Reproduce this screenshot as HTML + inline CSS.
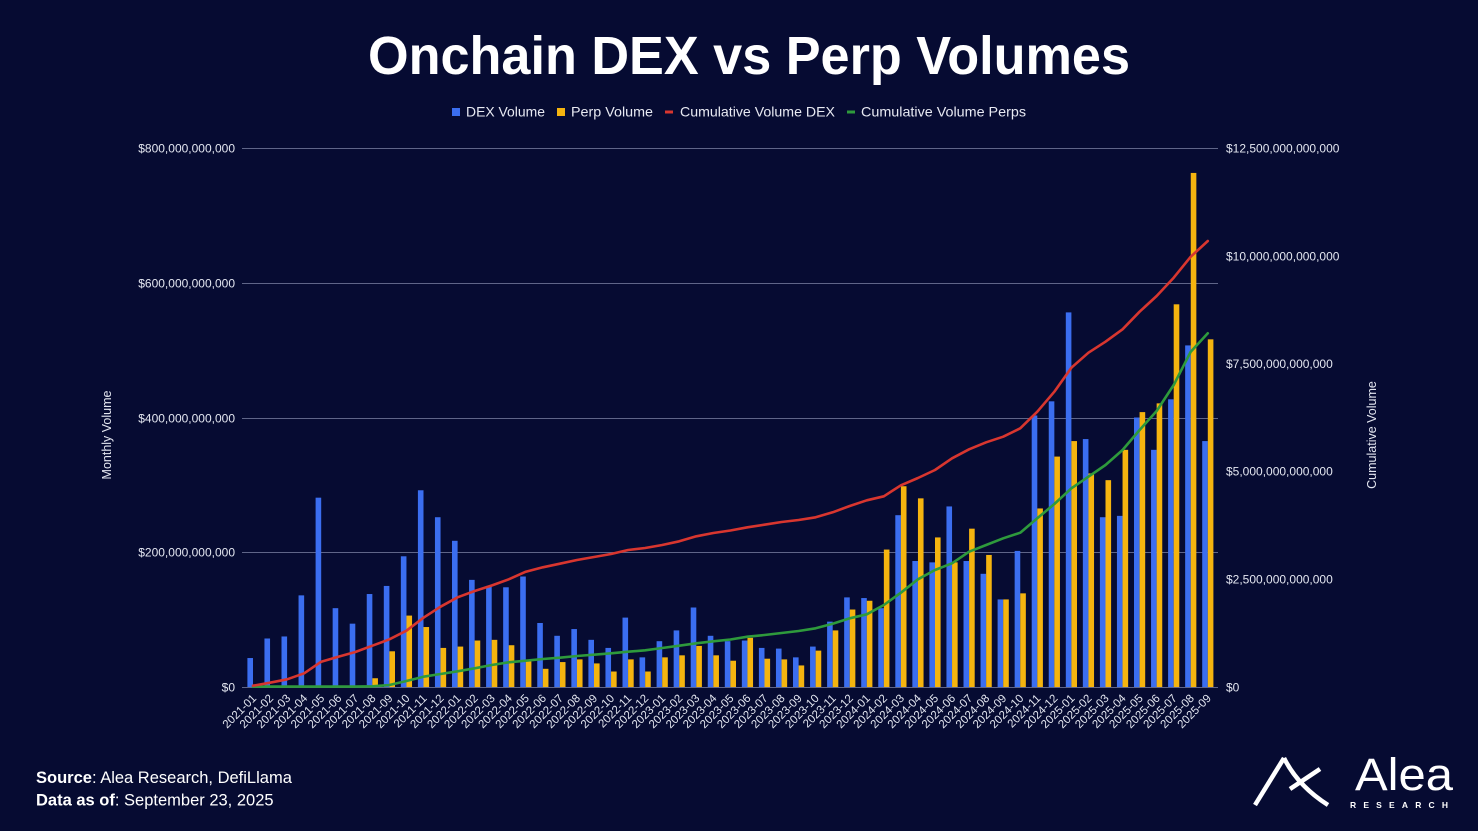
<!DOCTYPE html>
<html>
<head>
<meta charset="utf-8">
<style>
  html, body { margin:0; padding:0; background:#060b32; }
  svg { display:block; }
  text { font-family: "Liberation Sans", Arial, sans-serif; }
</style>
</head>
<body>
<svg width="1478" height="831" viewBox="0 0 1478 831" xmlns="http://www.w3.org/2000/svg">
  <rect x="0" y="0" width="1478" height="831" fill="#060b32"/>

  <!-- Title -->
  <text x="749" y="74" text-anchor="middle" font-size="54" font-weight="bold" fill="#ffffff" textLength="762" lengthAdjust="spacingAndGlyphs">Onchain DEX vs Perp Volumes</text>

  <!-- Legend -->
  <rect x="452" y="108" width="8" height="8" fill="#3b6ef0"/>
  <text x="466" y="116.5" font-size="14" fill="#e8eaf3" textLength="79" lengthAdjust="spacingAndGlyphs">DEX Volume</text>
  <rect x="557" y="108" width="8" height="8" fill="#f5b40f"/>
  <text x="571" y="116.5" font-size="14" fill="#e8eaf3" textLength="82" lengthAdjust="spacingAndGlyphs">Perp Volume</text>
  <rect x="665" y="110.5" width="8" height="3" fill="#d8362f"/>
  <text x="680" y="116.5" font-size="14" fill="#e8eaf3" textLength="155" lengthAdjust="spacingAndGlyphs">Cumulative Volume DEX</text>
  <rect x="847" y="110.5" width="8" height="3" fill="#2e9a3c"/>
  <text x="861" y="116.5" font-size="14" fill="#e8eaf3" textLength="165" lengthAdjust="spacingAndGlyphs">Cumulative Volume Perps</text>

  <!-- Gridlines -->
  <g stroke="#5f6588" stroke-width="1">
    <line x1="242" y1="148.5" x2="1218" y2="148.5"/>
    <line x1="242" y1="283.5" x2="1218" y2="283.5"/>
    <line x1="242" y1="418.5" x2="1218" y2="418.5"/>
    <line x1="242" y1="552.5" x2="1218" y2="552.5"/>
    <line x1="242" y1="687.5" x2="1218" y2="687.5"/>
  </g>

  <!-- Left axis labels -->
  <g font-size="12" fill="#e3e6f0" text-anchor="end">
    <text x="235" y="152.5">$800,000,000,000</text>
    <text x="235" y="287.5">$600,000,000,000</text>
    <text x="235" y="422.5">$400,000,000,000</text>
    <text x="235" y="556.5">$200,000,000,000</text>
    <text x="235" y="691.5">$0</text>
  </g>
  <!-- Right axis labels -->
  <g font-size="12" fill="#e3e6f0" text-anchor="start">
    <text x="1226" y="152.5">$12,500,000,000,000</text>
    <text x="1226" y="260.5">$10,000,000,000,000</text>
    <text x="1226" y="368">$7,500,000,000,000</text>
    <text x="1226" y="475.5">$5,000,000,000,000</text>
    <text x="1226" y="583.5">$2,500,000,000,000</text>
    <text x="1226" y="691.5">$0</text>
  </g>

  <!-- Axis titles -->
  <text transform="translate(111 435) rotate(-90)" text-anchor="middle" font-size="12.5" fill="#e3e6f0">Monthly Volume</text>
  <text transform="translate(1376 435) rotate(-90)" text-anchor="middle" font-size="12.5" fill="#e3e6f0">Cumulative Volume</text>

  <!-- Bars (values in billions) -->
  <g transform="translate(0 687) scale(1 -0.67375)">
    <g fill="#3b6ef0">
      <rect x="247.4" y="0" width="5.6" height="43"/>
      <rect x="264.45" y="0" width="5.6" height="72"/>
      <rect x="281.5" y="0" width="5.6" height="75"/>
      <rect x="298.55" y="0" width="5.6" height="136"/>
      <rect x="315.6" y="0" width="5.6" height="281"/>
      <rect x="332.65" y="0" width="5.6" height="117"/>
      <rect x="349.7" y="0" width="5.6" height="94"/>
      <rect x="366.75" y="0" width="5.6" height="138"/>
      <rect x="383.8" y="0" width="5.6" height="150"/>
      <rect x="400.85" y="0" width="5.6" height="194"/>
      <rect x="417.9" y="0" width="5.6" height="292"/>
      <rect x="434.95" y="0" width="5.6" height="252"/>
      <rect x="452.0" y="0" width="5.6" height="217"/>
      <rect x="469.05" y="0" width="5.6" height="159"/>
      <rect x="486.1" y="0" width="5.6" height="150"/>
      <rect x="503.15" y="0" width="5.6" height="148"/>
      <rect x="520.2" y="0" width="5.6" height="164"/>
      <rect x="537.25" y="0" width="5.6" height="95"/>
      <rect x="554.3" y="0" width="5.6" height="76"/>
      <rect x="571.35" y="0" width="5.6" height="86"/>
      <rect x="588.4" y="0" width="5.6" height="70"/>
      <rect x="605.45" y="0" width="5.6" height="58"/>
      <rect x="622.5" y="0" width="5.6" height="103"/>
      <rect x="639.55" y="0" width="5.6" height="44"/>
      <rect x="656.6" y="0" width="5.6" height="68"/>
      <rect x="673.65" y="0" width="5.6" height="84"/>
      <rect x="690.7" y="0" width="5.6" height="118"/>
      <rect x="707.75" y="0" width="5.6" height="76"/>
      <rect x="724.8" y="0" width="5.6" height="68"/>
      <rect x="741.85" y="0" width="5.6" height="69"/>
      <rect x="758.9" y="0" width="5.6" height="58"/>
      <rect x="775.95" y="0" width="5.6" height="57"/>
      <rect x="793.0" y="0" width="5.6" height="44"/>
      <rect x="810.05" y="0" width="5.6" height="60"/>
      <rect x="827.1" y="0" width="5.6" height="97"/>
      <rect x="844.15" y="0" width="5.6" height="133"/>
      <rect x="861.2" y="0" width="5.6" height="132"/>
      <rect x="878.25" y="0" width="5.6" height="117"/>
      <rect x="895.3" y="0" width="5.6" height="255"/>
      <rect x="912.35" y="0" width="5.6" height="187"/>
      <rect x="929.4" y="0" width="5.6" height="185"/>
      <rect x="946.45" y="0" width="5.6" height="268"/>
      <rect x="963.5" y="0" width="5.6" height="187"/>
      <rect x="980.55" y="0" width="5.6" height="168"/>
      <rect x="997.6" y="0" width="5.6" height="130"/>
      <rect x="1014.65" y="0" width="5.6" height="202"/>
      <rect x="1031.7" y="0" width="5.6" height="403"/>
      <rect x="1048.75" y="0" width="5.6" height="424"/>
      <rect x="1065.8" y="0" width="5.6" height="556"/>
      <rect x="1082.85" y="0" width="5.6" height="368"/>
      <rect x="1099.9" y="0" width="5.6" height="252"/>
      <rect x="1116.95" y="0" width="5.6" height="254"/>
      <rect x="1134.0" y="0" width="5.6" height="400"/>
      <rect x="1151.05" y="0" width="5.6" height="352"/>
      <rect x="1168.1" y="0" width="5.6" height="427"/>
      <rect x="1185.15" y="0" width="5.6" height="507"/>
      <rect x="1202.2" y="0" width="5.6" height="365"/>
    </g>
    <g fill="#f5b40f">
      <rect x="372.35" y="0" width="5.6" height="13"/>
      <rect x="389.4" y="0" width="5.6" height="53"/>
      <rect x="406.45" y="0" width="5.6" height="106"/>
      <rect x="423.5" y="0" width="5.6" height="89"/>
      <rect x="440.55" y="0" width="5.6" height="58"/>
      <rect x="457.6" y="0" width="5.6" height="60"/>
      <rect x="474.65" y="0" width="5.6" height="69"/>
      <rect x="491.7" y="0" width="5.6" height="70"/>
      <rect x="508.75" y="0" width="5.6" height="62"/>
      <rect x="525.8" y="0" width="5.6" height="38"/>
      <rect x="542.85" y="0" width="5.6" height="27"/>
      <rect x="559.9" y="0" width="5.6" height="37"/>
      <rect x="576.95" y="0" width="5.6" height="41"/>
      <rect x="594.0" y="0" width="5.6" height="35"/>
      <rect x="611.05" y="0" width="5.6" height="23"/>
      <rect x="628.1" y="0" width="5.6" height="41"/>
      <rect x="645.15" y="0" width="5.6" height="23"/>
      <rect x="662.2" y="0" width="5.6" height="44"/>
      <rect x="679.25" y="0" width="5.6" height="47"/>
      <rect x="696.3" y="0" width="5.6" height="61"/>
      <rect x="713.35" y="0" width="5.6" height="47"/>
      <rect x="730.4" y="0" width="5.6" height="39"/>
      <rect x="747.45" y="0" width="5.6" height="73"/>
      <rect x="764.5" y="0" width="5.6" height="42"/>
      <rect x="781.55" y="0" width="5.6" height="41"/>
      <rect x="798.6" y="0" width="5.6" height="32"/>
      <rect x="815.65" y="0" width="5.6" height="54"/>
      <rect x="832.7" y="0" width="5.6" height="84"/>
      <rect x="849.75" y="0" width="5.6" height="115"/>
      <rect x="866.8" y="0" width="5.6" height="128"/>
      <rect x="883.85" y="0" width="5.6" height="204"/>
      <rect x="900.9" y="0" width="5.6" height="298"/>
      <rect x="917.95" y="0" width="5.6" height="280"/>
      <rect x="935.0" y="0" width="5.6" height="222"/>
      <rect x="952.05" y="0" width="5.6" height="185"/>
      <rect x="969.1" y="0" width="5.6" height="235"/>
      <rect x="986.15" y="0" width="5.6" height="196"/>
      <rect x="1003.2" y="0" width="5.6" height="130"/>
      <rect x="1020.25" y="0" width="5.6" height="139"/>
      <rect x="1037.3" y="0" width="5.6" height="265"/>
      <rect x="1054.35" y="0" width="5.6" height="342"/>
      <rect x="1071.4" y="0" width="5.6" height="365"/>
      <rect x="1088.45" y="0" width="5.6" height="317"/>
      <rect x="1105.5" y="0" width="5.6" height="307"/>
      <rect x="1122.55" y="0" width="5.6" height="352"/>
      <rect x="1139.6" y="0" width="5.6" height="408"/>
      <rect x="1156.65" y="0" width="5.6" height="421"/>
      <rect x="1173.7" y="0" width="5.6" height="568"/>
      <rect x="1190.75" y="0" width="5.6" height="763"/>
      <rect x="1207.8" y="0" width="5.6" height="516"/>
    </g>
  </g>

  <!-- Cumulative lines -->
  <polyline fill="none" stroke="#2e9a3c" stroke-width="2.6" stroke-linejoin="round" stroke-linecap="round"
    points="253,686.6 270.05,686.6 287.1,686.6 304.15,686.6 321.2,686.6 338.25,686.6 355.3,686.6 372.35,686.3 389.4,685 406.45,681 423.5,676.7 440.55,674 457.6,671.3 474.65,668.3 491.7,665 508.75,662.3 525.8,660.7 542.85,659 559.9,657.7 576.95,656 594,654.7 611.05,653.3 628.1,651.7 645.15,650.3 662.2,648 679.25,645.7 696.3,643.3 713.35,641.3 730.4,639.5 747.45,636.7 764.5,635 781.55,633 798.6,631 815.65,628.3 832.7,623.7 849.75,618.3 866.8,614.3 883.85,605 900.9,592.7 917.95,579.3 935,570 952.05,563.3 969.1,551.7 986.15,545 1003.2,538.3 1020.25,532.7 1037.3,518.3 1054.35,504 1071.4,488.3 1088.45,476.7 1105.5,465 1122.55,450 1139.6,430 1156.65,411 1173.7,385 1190.75,351.7 1207.8,333.3"/>
  <polyline fill="none" stroke="#d8362f" stroke-width="2.6" stroke-linejoin="round" stroke-linecap="round"
    points="253,685.7 270.05,682.7 287.1,679.3 304.15,673.3 321.2,661.7 338.25,656.7 355.3,652 372.35,645.7 389.4,639.3 406.45,630.7 423.5,617.7 440.55,606.7 457.6,597.3 474.65,591 491.7,585.5 508.75,579.3 525.8,571.7 542.85,567.3 559.9,563.7 576.95,560 594,557 611.05,554 628.1,550 645.15,548 662.2,545 679.25,541.3 696.3,536.3 713.35,533 730.4,530.5 747.45,527.3 764.5,524.7 781.55,522 798.6,520 815.65,517.3 832.7,512.3 849.75,506 866.8,500.3 883.85,496.3 900.9,485.3 917.95,478 935,470 952.05,458.3 969.1,449.3 986.15,442.3 1003.2,436.7 1020.25,428.3 1037.3,411.7 1054.35,391.7 1071.4,367.7 1088.45,352.7 1105.5,341.7 1122.55,329.3 1139.6,311.7 1156.65,296 1173.7,277.7 1190.75,256.7 1207.8,241"/>

  <!-- X axis labels -->
  <g font-size="11.5" fill="#e3e6f0" text-anchor="end">
    <text transform="translate(257 699) rotate(-45)">2021-01</text>
    <text transform="translate(274.05 699) rotate(-45)">2021-02</text>
    <text transform="translate(291.1 699) rotate(-45)">2021-03</text>
    <text transform="translate(308.15 699) rotate(-45)">2021-04</text>
    <text transform="translate(325.2 699) rotate(-45)">2021-05</text>
    <text transform="translate(342.25 699) rotate(-45)">2021-06</text>
    <text transform="translate(359.3 699) rotate(-45)">2021-07</text>
    <text transform="translate(376.35 699) rotate(-45)">2021-08</text>
    <text transform="translate(393.4 699) rotate(-45)">2021-09</text>
    <text transform="translate(410.45 699) rotate(-45)">2021-10</text>
    <text transform="translate(427.5 699) rotate(-45)">2021-11</text>
    <text transform="translate(444.55 699) rotate(-45)">2021-12</text>
    <text transform="translate(461.6 699) rotate(-45)">2022-01</text>
    <text transform="translate(478.65 699) rotate(-45)">2022-02</text>
    <text transform="translate(495.7 699) rotate(-45)">2022-03</text>
    <text transform="translate(512.75 699) rotate(-45)">2022-04</text>
    <text transform="translate(529.8 699) rotate(-45)">2022-05</text>
    <text transform="translate(546.85 699) rotate(-45)">2022-06</text>
    <text transform="translate(563.9 699) rotate(-45)">2022-07</text>
    <text transform="translate(580.95 699) rotate(-45)">2022-08</text>
    <text transform="translate(598 699) rotate(-45)">2022-09</text>
    <text transform="translate(615.05 699) rotate(-45)">2022-10</text>
    <text transform="translate(632.1 699) rotate(-45)">2022-11</text>
    <text transform="translate(649.15 699) rotate(-45)">2022-12</text>
    <text transform="translate(666.2 699) rotate(-45)">2023-01</text>
    <text transform="translate(683.25 699) rotate(-45)">2023-02</text>
    <text transform="translate(700.3 699) rotate(-45)">2023-03</text>
    <text transform="translate(717.35 699) rotate(-45)">2023-04</text>
    <text transform="translate(734.4 699) rotate(-45)">2023-05</text>
    <text transform="translate(751.45 699) rotate(-45)">2023-06</text>
    <text transform="translate(768.5 699) rotate(-45)">2023-07</text>
    <text transform="translate(785.55 699) rotate(-45)">2023-08</text>
    <text transform="translate(802.6 699) rotate(-45)">2023-09</text>
    <text transform="translate(819.65 699) rotate(-45)">2023-10</text>
    <text transform="translate(836.7 699) rotate(-45)">2023-11</text>
    <text transform="translate(853.75 699) rotate(-45)">2023-12</text>
    <text transform="translate(870.8 699) rotate(-45)">2024-01</text>
    <text transform="translate(887.85 699) rotate(-45)">2024-02</text>
    <text transform="translate(904.9 699) rotate(-45)">2024-03</text>
    <text transform="translate(921.95 699) rotate(-45)">2024-04</text>
    <text transform="translate(939 699) rotate(-45)">2024-05</text>
    <text transform="translate(956.05 699) rotate(-45)">2024-06</text>
    <text transform="translate(973.1 699) rotate(-45)">2024-07</text>
    <text transform="translate(990.15 699) rotate(-45)">2024-08</text>
    <text transform="translate(1007.2 699) rotate(-45)">2024-09</text>
    <text transform="translate(1024.25 699) rotate(-45)">2024-10</text>
    <text transform="translate(1041.3 699) rotate(-45)">2024-11</text>
    <text transform="translate(1058.35 699) rotate(-45)">2024-12</text>
    <text transform="translate(1075.4 699) rotate(-45)">2025-01</text>
    <text transform="translate(1092.45 699) rotate(-45)">2025-02</text>
    <text transform="translate(1109.5 699) rotate(-45)">2025-03</text>
    <text transform="translate(1126.55 699) rotate(-45)">2025-04</text>
    <text transform="translate(1143.6 699) rotate(-45)">2025-05</text>
    <text transform="translate(1160.65 699) rotate(-45)">2025-06</text>
    <text transform="translate(1177.7 699) rotate(-45)">2025-07</text>
    <text transform="translate(1194.75 699) rotate(-45)">2025-08</text>
    <text transform="translate(1211.8 699) rotate(-45)">2025-09</text>
  </g>

  <!-- Footer -->
  <text x="36" y="783" font-size="16.5" fill="#ffffff"><tspan font-weight="bold">Source</tspan>: Alea Research, DefiLlama</text>
  <text x="36" y="805.5" font-size="16.5" fill="#ffffff"><tspan font-weight="bold">Data as of</tspan>: September 23, 2025</text>

  <!-- Logo -->
  <g fill="none" stroke="#ffffff" stroke-width="4.5" stroke-linecap="butt" stroke-linejoin="miter">
    <path d="M1255,805 L1284,758"/>
    <path d="M1284,758 Q1298,786 1328,805"/>
    <path d="M1290,789 L1320,769"/>
  </g>
  <text x="1355" y="790" font-size="45" fill="#ffffff" textLength="98" lengthAdjust="spacingAndGlyphs">Alea</text>
  <text x="1350" y="808" font-size="8.5" font-weight="bold" fill="#ffffff" textLength="98" lengthAdjust="spacing">RESEARCH</text>
</svg>
</body>
</html>
